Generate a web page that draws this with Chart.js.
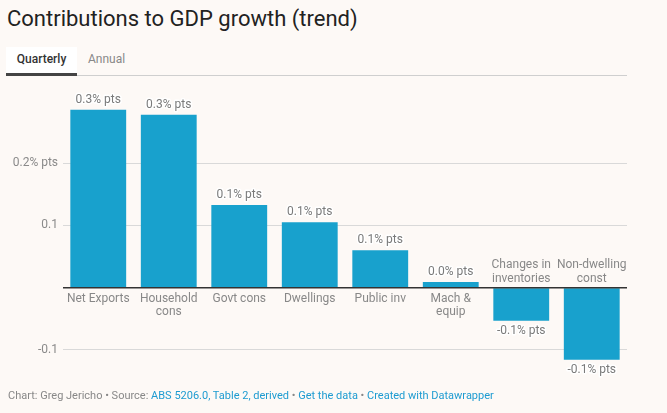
<!DOCTYPE html>
<html>
<head>
<meta charset="utf-8">
<script src="https://cdn.jsdelivr.net/npm/chart.js@4"></script>
<style>
  html, body { margin: 0; padding: 0; background: #fdf9f6; width: 667px; height: 413px; overflow: hidden; font-family: Roboto, sans-serif; }
  #title { position: absolute; left: 7px; top: 6px; font-size: 22px; color: #222; font-weight: 400; letter-spacing: 0; white-space: nowrap; }
  #tabs { position: absolute; left: 6px; top: 47px; width: 621px; height: 28px; border-bottom: 1px solid #cfcfcf; }
  .tab { position: absolute; top: 0; height: 26px; line-height: 25px; font-size: 12px; }
  #tabQ { left: 0; width: 71px; background: #fff; color: #333; font-weight: 500; text-align: center; border-bottom: 3px solid #444; height: 26px; }
  #tabA { left: 82px; color: #888; }
  #footer { position: absolute; left: 8px; top: 389px; font-size: 11px; color: #888; white-space: nowrap; }
  #footer a { color: #1d9bd1; text-decoration: none; }
  #wrap { position: absolute; left: 0; top: 0; width: 667px; height: 413px; }
</style>
</head>
<body>
<div id="title">Contributions to GDP growth (trend)</div>
<div id="tabs"><div class="tab" id="tabQ">Quarterly</div><div class="tab" id="tabA">Annual</div></div>
<div id="wrap"><canvas id="c"></canvas></div>
<div id="footer">Chart: Greg Jericho • Source: <a>ABS 5206.0, Table 2, derived</a> • <a>Get the data</a> • <a>Created with Datawrapper</a></div>
<script>
const categories = [["Net Exports"], ["Household", "cons"], ["Govt cons"], ["Dwellings"], ["Public inv"], ["Mach &", "equip"], ["Changes in", "inventories"], ["Non-dwelling", "const"]];
const values = [0.286, 0.278, 0.133, 0.105, 0.060, 0.009, -0.053, -0.116];
const valueLabels = ["0.3% pts", "0.3% pts", "0.1% pts", "0.1% pts", "0.1% pts", "0.0% pts", "-0.1% pts", "-0.1% pts"];
const tickValues = [-0.1, 0, 0.1, 0.2];
const tickLabels = ["-0.1", "", "0.1", "0.2% pts"];

const labelPlugin = {
  id: 'labels',
  afterDatasetsDraw(chart) {
    const ctx = chart.ctx;
    const meta = chart.getDatasetMeta(0);
    const y = chart.scales.y;
    const x = chart.scales.x;
    const zero = y.getPixelForValue(0);
    ctx.save();
    ctx.strokeStyle = '#333';
    ctx.lineWidth = 1.5;
    ctx.beginPath();
    ctx.moveTo(chart.chartArea.left, zero);
    ctx.lineTo(chart.chartArea.right, zero);
    ctx.stroke();
    ctx.font = '12px Roboto';
    ctx.textAlign = 'center';
    ctx.lineJoin = 'round';
    meta.data.forEach((bar, i) => {
      const v = values[i];
      const cx = x.getPixelForValue(i);
      ctx.textBaseline = 'middle';
      const vy = v >= 0 ? bar.y - 10 : bar.y + 10;
      ctx.strokeStyle = '#ffffff';
      ctx.lineWidth = 3;
      ctx.strokeText(valueLabels[i], cx, vy);
      ctx.fillStyle = '#7a7a7a';
      ctx.fillText(valueLabels[i], cx, vy);
      const lines = categories[i];
      ctx.fillStyle = '#888';
      const lh = 13.5;
      if (v >= 0) {
        ctx.textBaseline = 'top';
        lines.forEach((l, k) => ctx.fillText(l, cx, zero + 5 + k * lh));
      } else {
        ctx.textBaseline = 'bottom';
        lines.forEach((l, k) => ctx.fillText(l, cx, zero - 3 - (lines.length - 1 - k) * lh));
      }
    });
    ctx.restore();
  }
};

new Chart(document.getElementById('c'), {
  type: 'bar',
  data: {
    labels: categories.map(c => c.join(' ')),
    datasets: [{ data: values, backgroundColor: '#18a1cd', borderWidth: 0, categoryPercentage: 0.8, barPercentage: 0.99 }]
  },
  plugins: [labelPlugin],
  options: {
    responsive: true,
    maintainAspectRatio: false,
    animation: false,
    devicePixelRatio: 1,
    layout: { padding: { left: 0, right: 40, top: 101, bottom: 32 } },
    plugins: { legend: { display: false }, tooltip: { enabled: false } },
    scales: {
      x: { display: false, grid: { display: false } },
      y: {
        min: -0.15, max: 0.3,
        afterBuildTicks: s => { s.ticks = tickValues.map(v => ({ value: v })); },
        afterFit: s => { s.width = 63; },
        border: { display: false },
        grid: { color: ctx => ctx.tick && ctx.tick.value === 0 ? 'rgba(0,0,0,0)' : '#d9d9d9', drawTicks: false, lineWidth: 1 },
        ticks: {
          padding: 5,
          color: '#8a8a8a',
          font: { family: 'Roboto', size: 12 },
          callback: (v) => { const i = tickValues.indexOf(v); return i >= 0 ? tickLabels[i] : ''; }
        }
      }
    }
  }
});
</script>
</body>
</html>
